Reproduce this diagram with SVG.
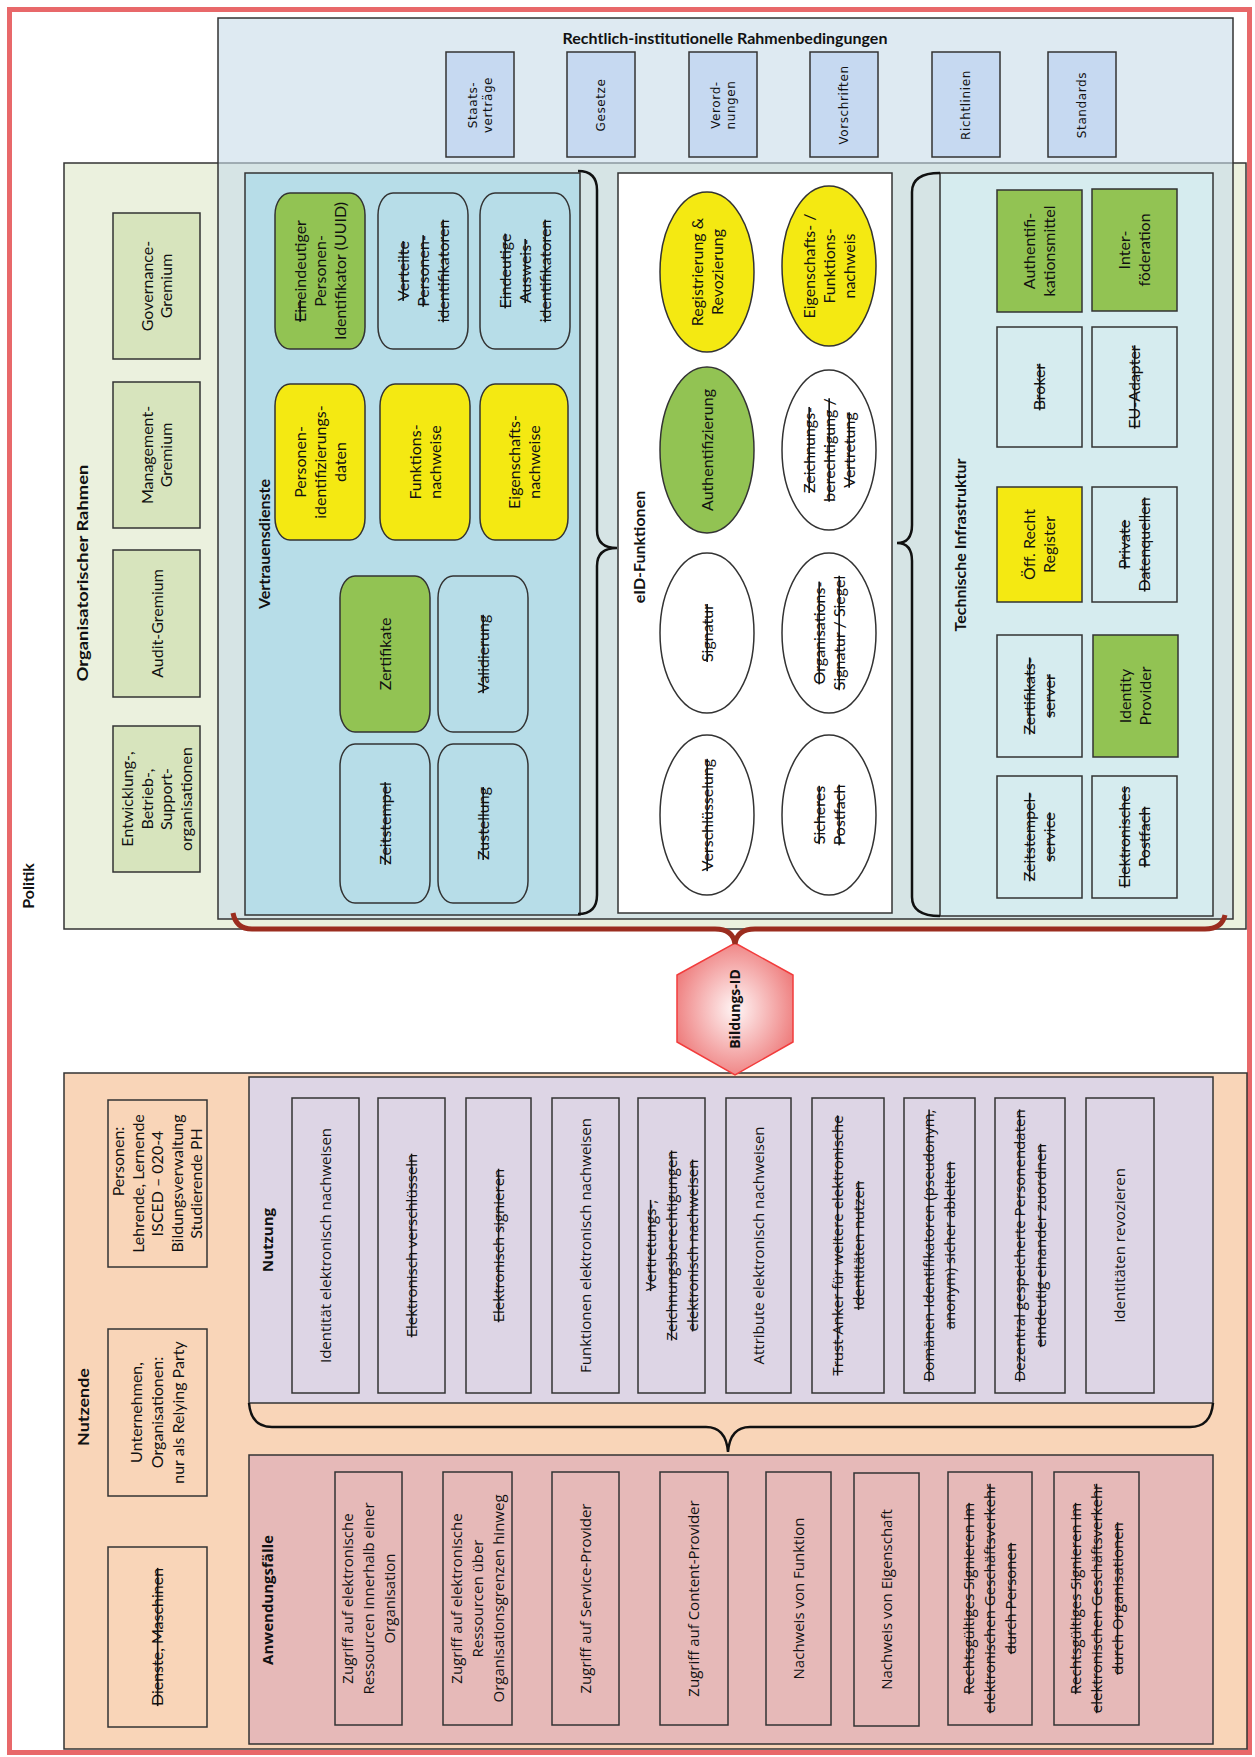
<svg xmlns="http://www.w3.org/2000/svg" width="1255" height="1757" viewBox="0 0 1255 1757">
<style>
.bx{stroke:#333;stroke-width:1.5}
.t{font-family:Lato,"Liberation Sans",sans-serif;font-size:16px;fill:#111;text-anchor:middle}
.b{font-weight:bold}
.o{font-family:"Open Sans","Liberation Sans",sans-serif;font-size:15px;fill:#111;text-anchor:middle}
.r{font-family:"DejaVu Sans","Liberation Sans",sans-serif;font-size:12px;letter-spacing:0.6px;fill:#111;text-anchor:middle}
.s{text-decoration:line-through}
.green{fill:#92c353}
.yellow{fill:#f4e912}
.vd{fill:#b7dde8}
.ti{fill:#d6ecef}
.org{fill:#d7e4bd}
.rb{fill:#c6d9f1}
.nu{fill:#ddd5e5}
.an{fill:#e6b9b8}
.pe{fill:#f9d5b8}
.brace{fill:none;stroke:#111;stroke-width:2.5}
</style>
<defs>
<radialGradient id="hexg" cx="50%" cy="50%" r="55%">
<stop offset="0%" stop-color="#fff6f6"/>
<stop offset="100%" stop-color="#ee7c7c"/>
</radialGradient>
</defs>
<rect width="1255" height="1757" fill="#fff"/>
<rect x="9.5" y="9.5" width="1240" height="1743" fill="none" stroke="#e8686a" stroke-width="5"/>
<text class="t b" transform="translate(28 886) rotate(-90)" y="5.5">Politik</text>

<g id="org-rahmen">
<rect x="64" y="163" width="1182" height="766" fill="#ebf1de" class="bx"/>
</g>
<g id="rechtlich">
<rect x="218" y="18" width="1015" height="901" fill="#c8dcea" fill-opacity="0.6" class="bx"/>
<text class="t b" x="725" y="43.5">Rechtlich-institutionelle Rahmenbedingungen</text>
</g>
<g id="org-title"><text class="t b" transform="translate(82 573) rotate(-90) scale(1.15 1)" y="5.5">Organisatorischer Rahmen</text></g>

<g id="r-staats"><rect x="446" y="52" width="68" height="105" class="bx rb"/><text class="r" transform="translate(480 105) rotate(-90)"><tspan x="0" y="-3.3">Staats-</tspan><tspan x="0" y="11.7">verträge</tspan></text></g>
<g id="r-gesetze"><rect x="567" y="52" width="68" height="105" class="bx rb"/><text class="r" transform="translate(601 105) rotate(-90)" y="4.3">Gesetze</text></g>
<g id="r-verord"><rect x="689" y="52" width="68" height="105" class="bx rb"/><text class="r" transform="translate(723 105) rotate(-90)"><tspan x="0" y="-3.3">Verord-</tspan><tspan x="0" y="11.7">nungen</tspan></text></g>
<g id="r-vorschriften"><rect x="810" y="52" width="68" height="105" class="bx rb"/><text class="r" transform="translate(844 105) rotate(-90)" y="4.3">Vorschriften</text></g>
<g id="r-richtlinien"><rect x="932" y="52" width="68" height="105" class="bx rb"/><text class="r" transform="translate(966 105) rotate(-90)" y="4.3">Richtlinien</text></g>
<g id="r-standards"><rect x="1048" y="52" width="68" height="105" class="bx rb"/><text class="r" transform="translate(1082 105) rotate(-90)" y="4.3">Standards</text></g>

<g id="o-governance"><rect x="113" y="213" width="87" height="146" class="bx org"/><text class="t" transform="translate(157 286) rotate(-90)"><tspan x="0" y="-4.25">Governance-</tspan><tspan x="0" y="15.25">Gremium</tspan></text></g>
<g id="o-management"><rect x="113" y="382" width="87" height="146" class="bx org"/><text class="t" transform="translate(157 455) rotate(-90)"><tspan x="0" y="-4.25">Management-</tspan><tspan x="0" y="15.25">Gremium</tspan></text></g>
<g id="o-audit"><rect x="113" y="550" width="87" height="147" class="bx org"/><text class="t" transform="translate(157 623.5) rotate(-90)" y="5.5">Audit-Gremium</text></g>
<g id="o-entwicklung"><rect x="113" y="726" width="87" height="146" class="bx org"/><text class="t" transform="translate(157 799) rotate(-90)"><tspan x="0" y="-23.75">Entwicklung-,</tspan><tspan x="0" y="-4.25">Betrieb-,</tspan><tspan x="0" y="15.25">Support-</tspan><tspan x="0" y="34.75">organisationen</tspan></text></g>

<g id="vertrauensdienste">
<rect x="245" y="173" width="335" height="742" class="bx vd"/>
<text class="t b" transform="translate(264 544) rotate(-90)" y="5.5">Vertrauensdienste</text>
</g>
<g id="vd-uuid"><rect x="275" y="193" width="90" height="156" rx="15" ry="22" class="bx green"/><text class="t" transform="translate(320 271) rotate(-90)"><tspan x="0" y="-14.5"><tspan class="s">Ein</tspan>eindeutiger</tspan><tspan x="0" y="5.5">Personen-</tspan><tspan x="0" y="25.5">Identifikator (UUID)</tspan></text></g>
<g id="vd-verteilte"><rect x="378" y="193" width="90" height="156" rx="15" ry="22" class="bx vd"/><text class="t s" transform="translate(423 271) rotate(-90)"><tspan x="0" y="-14.5">Verteilte</tspan><tspan x="0" y="5.5">Personen-</tspan><tspan x="0" y="25.5">identifikatoren</tspan></text></g>
<g id="vd-ausweis"><rect x="480" y="193" width="90" height="156" rx="15" ry="22" class="bx vd"/><text class="t s" transform="translate(525 271) rotate(-90)"><tspan x="0" y="-14.5">Eindeutige</tspan><tspan x="0" y="5.5">Ausweis-</tspan><tspan x="0" y="25.5">identifikatoren</tspan></text></g>
<g id="vd-pid"><rect x="275" y="384" width="90" height="156" rx="15" ry="22" class="bx yellow"/><text class="t" transform="translate(320 462) rotate(-90)"><tspan x="0" y="-14.5">Personen-</tspan><tspan x="0" y="5.5">identifizierungs-</tspan><tspan x="0" y="25.5">daten</tspan></text></g>
<g id="vd-funktion"><rect x="380" y="384" width="90" height="156" rx="15" ry="22" class="bx yellow"/><text class="t" transform="translate(425 462) rotate(-90)"><tspan x="0" y="-4.5">Funktions-</tspan><tspan x="0" y="15.5">nachweise</tspan></text></g>
<g id="vd-eigenschaft"><rect x="480" y="384" width="88" height="156" rx="15" ry="22" class="bx yellow"/><text class="t" transform="translate(524 462) rotate(-90)"><tspan x="0" y="-4.5">Eigenschafts-</tspan><tspan x="0" y="15.5">nachweise</tspan></text></g>
<g id="vd-zertifikate"><rect x="340" y="576" width="90" height="156" rx="15" ry="22" class="bx green"/><text class="t" transform="translate(385 654) rotate(-90)" y="5.5">Zertifikate</text></g>
<g id="vd-validierung"><rect x="438" y="576" width="90" height="156" rx="15" ry="22" class="bx vd"/><text class="t s" transform="translate(483 654) rotate(-90)" y="5.5">Validierung</text></g>
<g id="vd-zeitstempel"><rect x="340" y="744" width="90" height="159" rx="15" ry="22" class="bx vd"/><text class="t s" transform="translate(385 823.5) rotate(-90)" y="5.5">Zeitstempel</text></g>
<g id="vd-zustellung"><rect x="438" y="744" width="90" height="159" rx="15" ry="22" class="bx vd"/><text class="t s" transform="translate(483 823.5) rotate(-90)" y="5.5">Zustellung</text></g>

<g id="eid-funktionen">
<rect x="618" y="173" width="274" height="740" fill="#fff" class="bx"/>
<text class="t b" transform="translate(639 547) rotate(-90)" y="5.5">eID-Funktionen</text>
</g>
<g id="e-registrierung"><ellipse cx="707" cy="272" rx="47" ry="80" class="bx yellow"/><text class="t" transform="translate(707 272) rotate(-90)"><tspan x="0" y="-4.5">Registrierung &amp;</tspan><tspan x="0" y="15.5">Revozierung</tspan></text></g>
<g id="e-eigenschaft"><ellipse cx="829" cy="266" rx="47" ry="80" class="bx yellow"/><text class="t" transform="translate(829 266) rotate(-90)"><tspan x="0" y="-14.5">Eigenschafts- /</tspan><tspan x="0" y="5.5">Funktions-</tspan><tspan x="0" y="25.5">nachweis</tspan></text></g>
<g id="e-authentifizierung"><ellipse cx="707" cy="450" rx="47" ry="83" class="bx green"/><text class="t" transform="translate(707 450) rotate(-90)" y="5.5">Authentifizierung</text></g>
<g id="e-zeichnung"><ellipse cx="829" cy="450" rx="47" ry="80" fill="#fff" class="bx"/><text class="t s" transform="translate(829 450) rotate(-90)"><tspan x="0" y="-14.5">Zeichnungs-</tspan><tspan x="0" y="5.5">berechtigung /</tspan><tspan x="0" y="25.5">Vertretung</tspan></text></g>
<g id="e-signatur"><ellipse cx="707" cy="633" rx="47" ry="80" fill="#fff" class="bx"/><text class="t s" transform="translate(707 633) rotate(-90)" y="5.5">Signatur</text></g>
<g id="e-siegel"><ellipse cx="829" cy="633" rx="47" ry="80" fill="#fff" class="bx"/><text class="t s" transform="translate(829 633) rotate(-90)"><tspan x="0" y="-4.5">Organisations-</tspan><tspan x="0" y="15.5">Signatur / Siegel</tspan></text></g>
<g id="e-verschluesselung"><ellipse cx="707" cy="815" rx="47" ry="80" fill="#fff" class="bx"/><text class="t s" transform="translate(707 815) rotate(-90)" y="5.5">Verschlüsselung</text></g>
<g id="e-postfach"><ellipse cx="829" cy="815" rx="47" ry="80" fill="#fff" class="bx"/><text class="t s" transform="translate(829 815) rotate(-90)"><tspan x="0" y="-4.5">Sicheres</tspan><tspan x="0" y="15.5">Postfach</tspan></text></g>

<g id="technische-infrastruktur">
<rect x="940" y="173" width="273" height="743" class="bx ti"/>
<text class="t b" transform="translate(960 545) rotate(-90)" y="5.5">Technische Infrastruktur</text>
</g>
<g id="t-authmittel"><rect x="997" y="190" width="85" height="122" class="bx green"/><text class="t" transform="translate(1039.5 251) rotate(-90)"><tspan x="0" y="-4.5">Authentifi-</tspan><tspan x="0" y="15.5">kationsmittel</tspan></text></g>
<g id="t-interfoederation"><rect x="1092" y="189" width="85" height="122" class="bx green"/><text class="t" transform="translate(1134.5 250) rotate(-90)"><tspan x="0" y="-4.5">Inter-</tspan><tspan x="0" y="15.5">föderation</tspan></text></g>
<g id="t-broker"><rect x="997" y="327" width="85" height="120" class="bx ti"/><text class="t s" transform="translate(1039.5 387) rotate(-90)" y="5.5">Broker</text></g>
<g id="t-euadapter"><rect x="1092" y="327" width="85" height="120" class="bx ti"/><text class="t s" transform="translate(1134.5 387) rotate(-90)" y="5.5">EU-Adapter</text></g>
<g id="t-register"><rect x="997" y="487" width="85" height="115" class="bx yellow"/><text class="t" transform="translate(1039.5 544.5) rotate(-90)"><tspan x="0" y="-4.5">Öff. Recht</tspan><tspan x="0" y="15.5">Register</tspan></text></g>
<g id="t-datenquellen"><rect x="1092" y="487" width="85" height="115" class="bx ti"/><text class="t s" transform="translate(1134.5 544.5) rotate(-90)"><tspan x="0" y="-4.5">Private</tspan><tspan x="0" y="15.5">Datenquellen</tspan></text></g>
<g id="t-zertserver"><rect x="997" y="635" width="85" height="122" class="bx ti"/><text class="t s" transform="translate(1039.5 696) rotate(-90)"><tspan x="0" y="-4.5">Zertifikats-</tspan><tspan x="0" y="15.5">server</tspan></text></g>
<g id="t-idp"><rect x="1093" y="635" width="85" height="122" class="bx green"/><text class="t" transform="translate(1135.5 696) rotate(-90)"><tspan x="0" y="-4.5">Identity</tspan><tspan x="0" y="15.5">Provider</tspan></text></g>
<g id="t-zeitstempel"><rect x="997" y="776" width="85" height="122" class="bx ti"/><text class="t s" transform="translate(1039.5 837) rotate(-90)"><tspan x="0" y="-4.5">Zeitstempel-</tspan><tspan x="0" y="15.5">service</tspan></text></g>
<g id="t-postfach"><rect x="1092" y="776" width="85" height="122" class="bx ti"/><text class="t s" transform="translate(1134.5 837) rotate(-90)"><tspan x="0" y="-4.5">Elektronisches</tspan><tspan x="0" y="15.5">Postfach</tspan></text></g>

<g id="nutzende">
<rect x="64" y="1073" width="1183" height="676" class="bx pe"/>
<text class="t b" transform="translate(83 1407) rotate(-90) scale(1.12 1)" y="5.5">Nutzende</text>
</g>
<g id="n-personen"><rect x="108" y="1100" width="99" height="167" class="bx pe"/><text class="t" transform="translate(157.5 1183.5) rotate(-90)"><tspan x="22" y="-33.5">Personen:</tspan><tspan x="0" y="-14">Lehrende, Lernende</tspan><tspan x="0" y="5.5">ISCED – 020-4</tspan><tspan x="0" y="25">Bildungsverwaltung</tspan><tspan x="0" y="44.5">Studierende PH</tspan></text></g>
<g id="n-unternehmen"><rect x="108" y="1329" width="99" height="167" class="bx pe"/><text class="t" transform="translate(157.5 1412.5) rotate(-90)"><tspan x="0" y="-15.5">Unternehmen,</tspan><tspan x="0" y="5.5">Organisationen:</tspan><tspan x="0" y="26.5">nur als Relying Party</tspan></text></g>
<g id="n-dienste"><rect x="108" y="1547" width="99" height="180" class="bx pe"/><text class="t s" transform="translate(157.5 1637) rotate(-90)" y="5.5">Dienste, Maschinen</text></g>

<g id="nutzung">
<rect x="249" y="1077" width="964" height="326" class="bx nu"/>
<text class="o b" transform="translate(268 1240) rotate(-90)" y="5">Nutzung</text>
</g>
<g id="u1"><rect x="292" y="1098" width="67" height="295" class="bx nu"/><text class="o" transform="translate(325.5 1245.5) rotate(-90)" y="5.4">Identität elektronisch nachweisen</text></g>
<g id="u2"><rect x="378" y="1098" width="67" height="295" class="bx nu"/><text class="o s" transform="translate(411.5 1245.5) rotate(-90)" y="5.4">Elektronisch verschlüsseln</text></g>
<g id="u3"><rect x="466" y="1098" width="65" height="295" class="bx nu"/><text class="o s" transform="translate(498.5 1245.5) rotate(-90)" y="5.4">Elektronisch signieren</text></g>
<g id="u4"><rect x="552" y="1098" width="67" height="295" class="bx nu"/><text class="o" transform="translate(585.5 1245.5) rotate(-90)" y="5.4">Funktionen elektronisch nachweisen</text></g>
<g id="u5"><rect x="638" y="1098" width="67" height="295" class="bx nu"/><text class="o s" transform="translate(671.5 1245.5) rotate(-90)"><tspan x="0" y="-15.6">Vertretungs-,</tspan><tspan x="0" y="5.4">Zeichnungsberechtigungen</tspan><tspan x="0" y="26.4">elektronisch nachweisen</tspan></text></g>
<g id="u6"><rect x="726" y="1098" width="65" height="295" class="bx nu"/><text class="o" transform="translate(758.5 1245.5) rotate(-90)" y="5.4">Attribute elektronisch nachweisen</text></g>
<g id="u7"><rect x="812" y="1098" width="72" height="295" class="bx nu"/><text class="o s" transform="translate(848 1245.5) rotate(-90)"><tspan x="0" y="-5.1">Trust-Anker für weitere elektronische</tspan><tspan x="0" y="15.9">Identitäten nutzen</tspan></text></g>
<g id="u8"><rect x="904" y="1098" width="71" height="295" class="bx nu"/><text class="o s" transform="translate(939.5 1245.5) rotate(-90)"><tspan x="0" y="-5.1">Domänen-Identifikatoren (pseudonym,</tspan><tspan x="0" y="15.9">anonym) sicher ableiten</tspan></text></g>
<g id="u9"><rect x="995" y="1098" width="70" height="295" class="bx nu"/><text class="o s" transform="translate(1030 1245.5) rotate(-90)"><tspan x="0" y="-5.1">Dezentral gespeicherte Personendaten</tspan><tspan x="0" y="15.9">eindeutig einander zuordnen</tspan></text></g>
<g id="u10"><rect x="1086" y="1098" width="68" height="295" class="bx nu"/><text class="o" transform="translate(1120 1245.5) rotate(-90)" y="5.4">Identitäten revozieren</text></g>

<g id="anwendungsfaelle">
<rect x="249" y="1455" width="964" height="289" class="bx an"/>
<text class="o b" transform="translate(268 1600) rotate(-90)" y="5">Anwendungsfälle</text>
</g>
<g id="a1"><rect x="335" y="1472" width="67" height="253" class="bx an"/><text class="o" transform="translate(368.5 1598.5) rotate(-90)"><tspan x="0" y="-15.6">Zugriff auf elektronische</tspan><tspan x="0" y="5.4">Ressourcen innerhalb einer</tspan><tspan x="0" y="26.4">Organisation</tspan></text></g>
<g id="a2"><rect x="443" y="1472" width="69" height="253" class="bx an"/><text class="o" transform="translate(477.5 1598.5) rotate(-90)"><tspan x="0" y="-15.6">Zugriff auf elektronische</tspan><tspan x="0" y="5.4">Ressourcen über</tspan><tspan x="0" y="26.4">Organisationsgrenzen hinweg</tspan></text></g>
<g id="a3"><rect x="552" y="1472" width="67" height="253" class="bx an"/><text class="o" transform="translate(585.5 1598.5) rotate(-90)" y="5.4">Zugriff auf Service-Provider</text></g>
<g id="a4"><rect x="660" y="1472" width="68" height="253" class="bx an"/><text class="o" transform="translate(694 1598.5) rotate(-90)" y="5.4">Zugriff auf Content-Provider</text></g>
<g id="a5"><rect x="766" y="1472" width="65" height="253" class="bx an"/><text class="o" transform="translate(798.5 1598.5) rotate(-90)" y="5.4">Nachweis von Funktion</text></g>
<g id="a6"><rect x="854" y="1473" width="65" height="253" class="bx an"/><text class="o" transform="translate(886.5 1599.5) rotate(-90)" y="5.4">Nachweis von Eigenschaft</text></g>
<g id="a7"><rect x="948" y="1472" width="84" height="253" class="bx an"/><text class="o s" transform="translate(990 1598.5) rotate(-90)"><tspan x="0" y="-15.6">Rechtsgültiges Signieren im</tspan><tspan x="0" y="5.4">elektronischen Geschäftsverkehr</tspan><tspan x="0" y="26.4">durch Personen</tspan></text></g>
<g id="a8"><rect x="1054" y="1472" width="85" height="253" class="bx an"/><text class="o s" transform="translate(1096.5 1598.5) rotate(-90)"><tspan x="0" y="-15.6">Rechtsgültiges Signieren im</tspan><tspan x="0" y="5.4">elektronischen Geschäftsverkehr</tspan><tspan x="0" y="26.4">durch Organisationen</tspan></text></g>

<g id="bildungs-id">
<polygon points="735,943 793,975 793,1042 735,1075 677,1042 677,975" fill="url(#hexg)" stroke="#f23c3c" stroke-width="1.5"/>
<text class="o b" style="font-size:14px" transform="translate(735 1009) rotate(-90)" y="5">Bildungs-ID</text>
</g>

<g id="connectors">
<path class="brace" d="M578,171 Q597,171 597,190 L597,530 Q597,548 617,548 Q597,548 597,566 L597,895 Q597,914 578,914"/>
<path class="brace" d="M940,173 Q912,173 912,192 L912,525 Q912,543 897,543 Q912,543 912,561 L912,897 Q912,916 940,916"/>
<path d="M233,913 Q236,929 252,929 L715,929 Q733,929 735,944 Q737,929 755,929 L1205,929 Q1222,929 1225,915" fill="none" stroke="#9b2d1f" stroke-width="5"/>
<path class="brace" d="M249,1403 Q251,1427 272,1427 L706,1427 Q726,1427 728,1452 Q730,1427 750,1427 L1190,1427 Q1211,1427 1213,1403"/>
</g>
</svg>
